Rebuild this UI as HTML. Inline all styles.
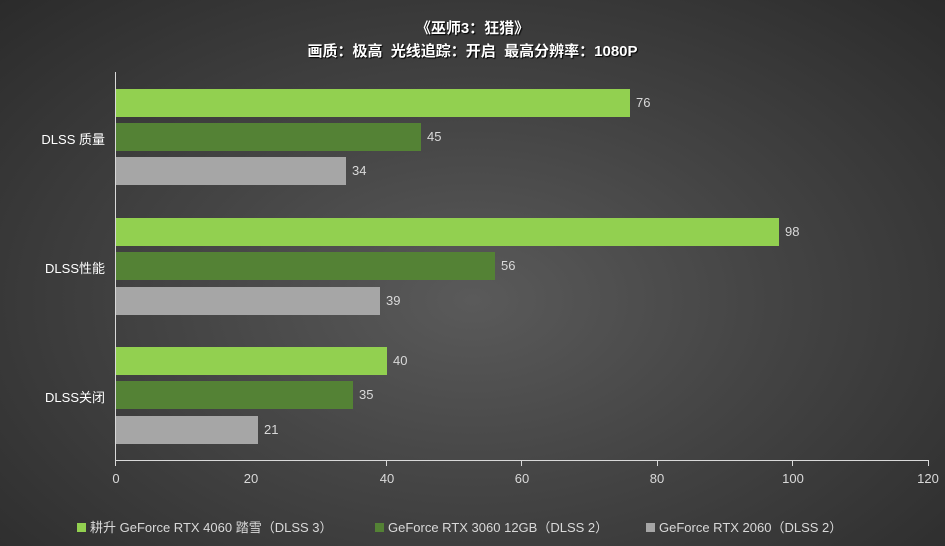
<!DOCTYPE html>
<html><head><meta charset="utf-8"><style>
body{margin:0;width:945px;height:546px;overflow:hidden;background:radial-gradient(ellipse at 50% 55%,#5a5a5a 0%,#444 45%,#2b2b2b 100%);font-family:"Liberation Sans","Noto Sans CJK SC",sans-serif;color:#d9d9d9;position:relative}
.t{position:absolute;left:0;width:945px;text-align:center;font-weight:bold;font-size:15px;color:#fff;text-shadow:1px 1px 1px #000}
.bar{position:absolute;left:116px;height:28px}
.v{position:absolute;font-size:13px;color:#d9d9d9}
.c{position:absolute;font-size:13px;color:#fff;right:840px;text-align:right;white-space:nowrap}
.tk{position:absolute;top:471px;font-size:13px;width:40px;margin-left:-20px;text-align:center}
.tm{position:absolute;top:460px;width:1px;height:6px;background:#d9d9d9}
.lg{position:absolute;top:517px;font-size:13px;white-space:nowrap}
.sq{display:inline-block;width:9px;height:9px;margin-right:4px;vertical-align:0}
</style></head><body>
<div class="t" style="top:17px">《巫师3：狂猎》</div>
<div class="t" style="top:40px">画质：极高&nbsp;&nbsp;光线追踪：开启&nbsp;&nbsp;最高分辨率：1080P</div>
<div style="position:absolute;left:115px;top:72px;width:1px;height:389px;background:#d9d9d9"></div>
<div style="position:absolute;left:115px;top:460px;width:814px;height:1px;background:#d9d9d9"></div>
<div class="c" style="top:129px">DLSS 质量</div>
<div class="c" style="top:258px">DLSS性能</div>
<div class="c" style="top:387px">DLSS关闭</div>
<div class="bar" style="top:89px;width:514px;background:#92d050"></div><div class="v" style="left:636px;top:95px">76</div>
<div class="bar" style="top:123px;width:305px;background:#548235"></div><div class="v" style="left:427px;top:129px">45</div>
<div class="bar" style="top:157px;width:230px;background:#a6a6a6"></div><div class="v" style="left:352px;top:163px">34</div>
<div class="bar" style="top:218px;width:663px;background:#92d050"></div><div class="v" style="left:785px;top:224px">98</div>
<div class="bar" style="top:252px;width:379px;background:#548235"></div><div class="v" style="left:501px;top:258px">56</div>
<div class="bar" style="top:287px;width:264px;background:#a6a6a6"></div><div class="v" style="left:386px;top:293px">39</div>
<div class="bar" style="top:347px;width:271px;background:#92d050"></div><div class="v" style="left:393px;top:353px">40</div>
<div class="bar" style="top:381px;width:237px;background:#548235"></div><div class="v" style="left:359px;top:387px">35</div>
<div class="bar" style="top:416px;width:142px;background:#a6a6a6"></div><div class="v" style="left:264px;top:422px">21</div>
<div class="tm" style="left:115px"></div><div class="tm" style="left:386px"></div><div class="tm" style="left:521px"></div><div class="tm" style="left:657px"></div><div class="tm" style="left:792px"></div><div class="tm" style="left:928px"></div>
<div class="tk" style="left:116px">0</div><div class="tk" style="left:251px">20</div><div class="tk" style="left:387px">40</div><div class="tk" style="left:522px">60</div><div class="tk" style="left:657px">80</div><div class="tk" style="left:793px">100</div><div class="tk" style="left:928px">120</div>
<div class="lg" style="left:77px"><span class="sq" style="background:#92d050"></span>耕升 GeForce RTX 4060 踏雪（DLSS 3）</div>
<div class="lg" style="left:375px"><span class="sq" style="background:#548235"></span>GeForce RTX 3060 12GB（DLSS 2）</div>
<div class="lg" style="left:646px"><span class="sq" style="background:#a6a6a6"></span>GeForce RTX 2060（DLSS 2）</div>
</body></html>
